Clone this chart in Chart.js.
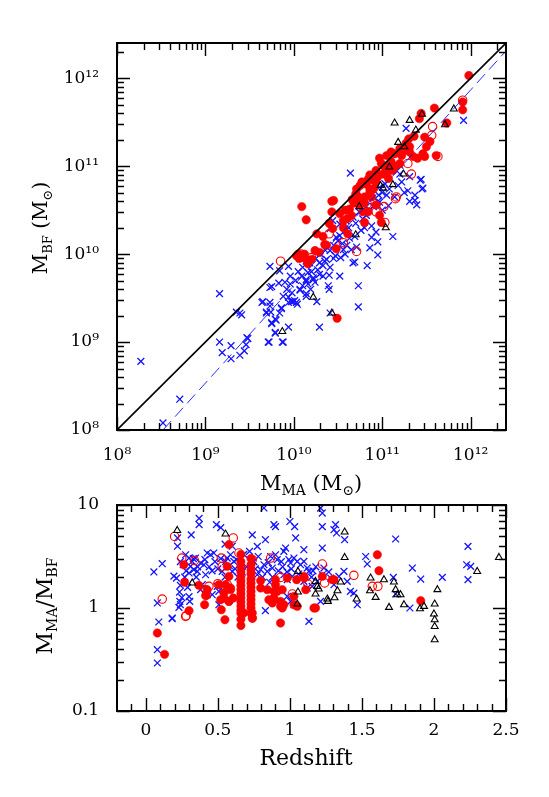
<!DOCTYPE html>
<html>
<head>
<meta charset="utf-8">
<script src="https://cdn.jsdelivr.net/npm/chart.js@4/dist/chart.umd.min.js"></script>
<style>
html, body { margin: 0; padding: 0; background: #fff; }
#top { position: absolute; left: 0; top: 0; width: 549px; height: 500px; }
#bot { position: absolute; left: 0; top: 480px; width: 549px; height: 317px; }
</style>
</head>
<body>
<div id="top"><canvas id="massChart" width="549" height="500"></canvas></div>
<div id="bot"><canvas id="ratioChart" width="549" height="317"></canvas></div>
<script>
// top panel: [log M_MA, log M_BF]
const massCross = [
  [9.16,9.55],[8.27,8.78],[8.71,8.35],[8.52,8.08],[9.16,9.00],[9.19,8.88],[9.29,8.96],[9.29,8.81],[9.35,9.34],[9.41,9.31],
  [9.39,8.85],[9.44,8.90],[9.46,8.97],[9.48,9.04],[9.64,9.45],[9.69,9.33],[9.73,9.45],[9.74,9.34],[9.75,9.22],[9.79,9.26],
  [9.72,9.00],[9.79,9.11],[9.86,9.38],[9.84,9.33],[9.88,9.52],[9.87,9.00],[9.94,9.17],[9.94,9.45],[9.97,9.46],[10.01,9.47],
  [10.04,9.43],[10.07,9.59],[10.14,9.52],[10.26,9.46],[10.29,9.17],[10.40,9.60],[10.73,9.40],[10.41,9.33],[9.73,9.86],[9.94,9.86],
  [9.96,9.75],[9.73,9.62],[9.83,9.67],[9.92,9.60],[9.94,9.51],[9.65,9.46],[9.73,9.41],[9.86,9.39],[9.99,9.46],[10.03,9.45],
  [9.39,9.33],[9.69,9.34],[9.80,9.25],[9.75,9.21],[9.79,9.10],[9.47,9.05],[9.71,9.00],[9.88,9.00],[10.14,9.92],[10.16,9.79],
  [10.14,9.71],[10.14,9.55],[10.64,10.92],[10.96,10.67],[10.95,10.14],[10.83,9.87],[10.95,9.99],[10.71,10.08],[10.67,9.90],[10.53,9.96],
  [10.41,10.04],[10.37,9.94],[10.40,9.76],[10.39,9.64],[10.52,9.75],[10.73,9.64],[9.96,9.66],[10.24,9.68],[10.22,9.73],[10.14,9.69],
  [10.33,9.75],[10.33,9.87],[10.48,10.19],[10.52,10.21],[10.59,10.27],[10.76,10.27],[10.88,10.32],[10.82,10.44],[10.97,10.59],[11.05,10.67],
  [11.08,10.74],[10.44,10.38],[10.41,10.29],[10.52,10.34],[10.59,10.38],[10.67,10.42],[10.74,10.48],[10.82,10.54],[10.90,10.54],[10.88,10.19],
  [10.93,10.25],[10.29,9.90],[11.92,11.52],[11.27,11.43],[11.43,10.84],[11.45,10.74],[11.29,10.72],[11.20,10.91],[11.22,10.82],[11.31,10.88],
  [10.93,10.91],[10.97,10.76],[11.03,10.80],[11.18,10.78],[11.37,10.67],[11.44,10.85],[11.46,10.75],[11.31,10.60],[11.37,10.61],[11.39,10.56],
  [11.12,10.20],[10.86,10.07],[10.69,9.91],[9.84,9.81],[9.90,9.68],[9.75,9.63],[10.07,9.60],[10.16,9.66],[10.22,9.71],[10.29,9.77],
  [10.41,9.85],[10.05,9.80],[10.10,9.85],[10.18,9.90],[10.25,9.95],[10.30,10.00],[10.35,10.05],[10.45,10.10],[10.50,10.15],[10.60,10.10],
  [10.62,10.30],[10.70,10.35],[10.78,10.40],[10.85,10.50],[10.95,10.60],[11.00,10.70],[11.20,11.01],[10.56,10.05],[10.47,9.98],[10.20,9.80],
  [10.02,9.70],[10.09,9.75],[10.27,9.82],[10.35,9.92],[10.45,9.95],[10.55,10.12],[10.63,10.18],[10.69,10.20],[10.80,10.30],[10.10,9.64],
  [9.98,9.56],[10.19,9.60],[10.58,10.00],[10.65,10.05],[11.00,10.50],[11.07,10.55],[11.14,10.65],[11.25,10.70]
];
const massDot = [
  [10.49,9.27],[10.09,10.54],[10.14,10.39],[10.43,10.60],[10.45,10.61],[10.43,10.48],[10.56,10.38],[10.71,10.74],[10.75,10.78],[10.80,10.80],
  [10.84,10.85],[10.86,10.70],[10.88,10.65],[10.80,10.65],[10.76,10.62],[10.97,11.09],[11.05,11.12],[11.10,11.05],[11.06,10.94],[10.93,10.82],
  [10.86,10.90],[10.90,10.74],[10.63,10.51],[10.65,10.44],[10.56,10.30],[10.61,10.23],[10.44,10.29],[10.48,10.06],[10.35,10.11],[10.37,10.10],
  [10.26,10.23],[10.24,10.04],[10.29,10.02],[10.14,9.94],[10.20,9.94],[10.16,9.89],[10.05,10.00],[10.09,9.96],[10.78,10.48],[10.80,10.36],
  [10.84,10.48],[10.74,10.56],[10.93,10.56],[10.97,10.44],[10.99,10.36],[10.60,10.40],[11.98,12.03],[11.91,11.73],[11.91,11.64],[11.59,11.66],
  [11.73,11.49],[11.44,11.60],[11.42,11.54],[11.36,11.34],[11.30,11.31],[11.27,11.26],[11.31,11.22],[11.25,11.18],[11.31,11.16],[11.22,11.12],
  [11.35,11.11],[11.40,11.09],[11.46,11.14],[11.48,11.11],[11.20,11.03],[11.61,11.12],[11.10,11.16],[11.14,11.14],[10.99,11.03],[11.05,10.99],
  [11.12,10.95],[11.01,10.91],[10.95,10.88],[11.07,10.86],[10.90,10.84],[10.82,10.80],[10.77,10.82],[10.86,10.74],[11.50,11.22],[11.54,11.28],
  [11.48,11.33],[10.03,9.98],[10.06,9.95],[10.12,10.00],[10.70,10.68],[10.68,10.58],[11.16,11.00],[10.52,10.46],[10.66,10.62],[10.72,10.66],
  [10.58,10.50],[10.40,10.35],[10.33,10.20],[10.93,10.95],[11.02,11.00],[10.80,10.58],[11.20,11.20]
];
const massOpen = [
  [9.85,9.92],[10.08,10.00],[10.20,9.96],[10.40,10.23],[10.56,10.13],[10.71,10.03],[10.63,10.42],[10.93,10.48],[11.02,10.54],[11.03,10.36],
  [11.15,10.63],[10.83,10.57],[11.57,11.45],[11.56,11.35],[11.29,11.03],[11.33,10.91],[11.16,10.65],[11.63,11.11],[11.91,11.75]
];
const massTri = [
  [9.87,9.12],[10.22,9.51],[10.43,9.33],[10.70,10.22],[11.04,10.30],[10.74,10.54],[10.98,10.78],[11.12,10.79],[11.14,11.49],[11.31,11.52],
  [11.81,11.65],[11.71,11.47],[11.18,11.27],[11.25,11.22],[11.08,10.99],[11.24,10.91],[11.01,10.75],[11.45,11.59],[11.38,11.41]
];
const oneToOne = [[8.0,8.0],[12.4,12.4]];
const fitLine = [[8.52,8.0],[12.4,12.31]];

// bottom panel: [redshift, log(M_MA/M_BF)]
const ratioCross = [
  [0.37,0.87],[0.37,0.81],[0.315,0.71],[0.22,0.68],[0.22,0.60],[0.114,0.43],[0.056,0.35],[0.195,0.31],[0.213,0.29],[0.234,0.155],
  [0.236,0.064],[0.24,0.032],[0.23,0.006],[0.30,0.11],[0.305,0.064],[0.183,-0.097],[0.09,-0.136],[0.08,0.049],[0.08,-0.405],[0.08,-0.534],
  [0.276,0.517],[0.30,0.485],[0.322,0.452],[0.345,0.485],[0.31,0.404],[0.333,0.372],[0.357,0.355],[0.30,0.34],[0.38,0.437],[0.403,0.42],
  [0.426,0.534],[0.45,0.517],[0.472,0.534],[0.415,0.323],[0.392,0.226],[0.38,0.178],[0.426,0.129],[0.461,0.129],[0.496,0.21],[0.507,0.161],
  [0.53,0.355],[0.553,0.452],[0.565,0.485],[0.588,0.517],[0.611,0.452],[0.60,0.355],[0.507,0.032],[0.49,0.809],[0.52,0.78],[0.82,0.971],
  [1.0,0.84],[1.033,0.79],[0.90,0.79],[1.213,0.97],[1.225,0.922],[1.225,0.79],[1.306,0.76],[1.317,0.81],[1.324,0.728],[1.38,0.663],
  [1.04,0.68],[0.739,0.71],[0.83,0.663],[0.774,0.598],[1.526,0.50],[1.537,0.427],[1.225,0.582],[1.097,0.566],[0.958,0.55],[0.97,0.582],
  [0.90,0.517],[0.866,0.50],[0.912,0.469],[0.993,0.469],[1.005,0.437],[1.028,0.485],[1.051,0.452],[1.074,0.42],[1.097,0.452],[1.12,0.388],
  [1.132,0.355],[0.82,0.42],[0.797,0.372],[0.843,0.355],[0.878,0.388],[0.774,0.323],[0.958,0.323],[0.982,0.275],[1.017,0.307],[1.097,0.258],
  [1.12,0.194],[1.155,0.21],[1.19,0.258],[1.236,0.388],[1.225,0.323],[1.283,0.291],[1.306,0.226],[1.34,0.307],[1.375,0.355],[1.398,0.258],
  [1.42,0.161],[1.444,0.145],[1.468,0.032],[1.213,0.064],[1.005,0.064],[1.028,0.032],[0.982,0.113],[0.83,-0.026],[1.132,-0.13],[1.734,0.67],
  [1.85,0.388],[1.908,0.281],[2.058,0.297],[1.718,0.297],[1.734,0.136],[1.833,0.0],[2.236,0.598],[2.227,0.42],[2.255,0.404],[2.236,0.275],
  [0.183,-0.104],[0.889,0.81],[0.26,0.42],[0.28,0.36],[0.35,0.30],[0.44,0.40],[0.48,0.45],[0.50,0.38],[0.55,0.30],[0.62,0.38],
  [0.64,0.30],[0.70,0.40],[0.75,0.45],[0.78,0.50],[0.85,0.44],[0.88,0.30],[0.92,0.36],[0.95,0.40],[0.98,0.35],[1.06,0.33],
  [1.15,0.30],[1.18,0.40],[1.27,0.35],[0.68,0.52],[0.72,0.55],[0.60,0.60],[0.55,0.62],[0.24,0.45],[0.27,0.30],[0.33,0.48],
  [0.36,0.40],[0.41,0.47],[0.46,0.36],[0.52,0.48],[0.58,0.41],[0.63,0.47],[0.67,0.35],[0.76,0.38],[0.81,0.30],[0.86,0.25],
  [0.94,0.45],[1.01,0.38],[1.08,0.30],[1.16,0.36],[0.24,0.22],[0.25,0.10],[0.29,0.20]
];
const ratioDot = [
  [0.264,0.42],[0.269,0.25],[0.368,0.22],[0.426,0.178],[0.42,0.122],[0.408,0.032],[0.30,-0.026],[0.08,-0.243],[0.13,-0.45],[0.524,-0.017],
  [0.549,-0.114],[0.577,0.615],[0.565,0.404],[0.577,0.307],[0.553,0.226],[0.588,0.194],[0.542,0.097],[0.577,0.064],[0.66,0.52],[0.66,0.45],
  [0.66,0.40],[0.66,0.35],[0.66,0.30],[0.66,0.26],[0.66,0.22],[0.66,0.18],[0.66,0.14],[0.66,0.10],[0.66,0.06],[0.66,0.02],
  [0.66,-0.02],[0.66,-0.05],[0.66,-0.11],[0.66,-0.17],[0.73,0.48],[0.73,0.42],[0.73,0.37],[0.73,0.33],[0.73,0.28],[0.73,0.24],
  [0.73,0.20],[0.73,0.16],[0.73,0.12],[0.73,0.08],[0.73,0.04],[0.73,0.00],[0.73,-0.05],[0.74,-0.10],[0.797,0.265],[0.797,0.194],
  [0.90,0.275],[0.90,0.226],[0.912,0.161],[0.889,0.097],[0.935,0.064],[0.947,0.0],[0.878,0.049],[0.958,0.032],[1.047,0.275],[1.097,0.307],
  [1.028,0.032],[1.051,0.016],[1.167,0.0],[0.935,-0.146],[1.225,0.307],[1.294,0.275],[1.607,0.517],[1.618,0.362],[1.908,0.071],[0.68,-0.049],
  [0.739,-0.049],[0.739,-0.097],[0.982,0.291],[0.947,0.178],[0.889,0.161],[1.10,0.291],[1.11,0.178],[1.028,0.113],[1.178,0.0],[1.306,0.275],
  [0.843,0.178],[0.854,0.08],[0.889,0.08],[0.935,0.016],[0.415,0.12],[0.507,0.226],[0.519,0.08],[0.607,0.097],[0.577,0.064],[0.542,0.145],
  [0.588,0.178]
];
const ratioOpen = [
  [0.20,0.695],[0.25,0.485],[0.338,0.46],[0.114,0.087],[0.28,-0.075],[0.415,0.178],[0.438,0.21],[0.50,0.236],[0.524,0.485],[0.53,0.404],
  [0.607,0.68],[0.646,0.534],[0.565,0.226],[0.866,0.485],[0.935,0.297],[1.017,0.136],[1.225,0.427],[1.125,0.233],[1.241,0.243],[1.444,0.317],
  [0.739,0.469],[1.572,0.21],[1.611,0.21],[0.276,-0.081]
];
const ratioTri = [
  [0.218,0.753],[0.553,0.718],[0.322,0.243],[1.056,0.355],[1.056,0.155],[1.051,0.039],[1.178,0.258],[1.19,0.21],[1.178,0.136],[1.26,0.087],
  [1.264,0.064],[1.33,0.168],[1.352,0.252],[1.38,0.738],[1.38,0.491],[1.463,0.087],[1.56,0.291],[1.556,0.168],[2.451,0.491],[2.30,0.355],
  [1.653,0.275],[1.722,0.252],[1.734,0.178],[1.746,0.129],[1.768,0.129],[1.595,0.103],[1.688,0.006],[1.792,0.032],[1.903,-0.007],[1.931,0.016],
  [2.024,0.178],[2.005,0.039],[2.0,-0.058],[2.005,-0.114],[2.005,-0.179],[2.005,-0.308],[1.20,0.185],[1.31,0.10]
];

const massTicks = [1e8, 1e9, 1e10, 1e11, 1e12];
const redshiftTicks = [0, 0.5, 1, 1.5, 2, 2.5];
const ratioTicks = [0.1, 1, 10];

const BLUE = 'rgb(20,20,255)';
const RED = 'rgb(255,0,0)';
const SUP = '⁰¹²³⁴⁵⁶⁷⁸⁹';

function logLog(arr) { return arr.map(p => ({ x: Math.pow(10, p[0]), y: Math.pow(10, p[1]) })); }
function linLog(arr) { return arr.map(p => ({ x: p[0], y: Math.pow(10, p[1]) })); }
function supNum(n) { return String(n).split('').map(c => SUP[+c]).join(''); }

function minorLog(lo, hi) {
  const out = [];
  for (let d = Math.floor(Math.log10(lo)); d <= Math.ceil(Math.log10(hi)); d++) {
    for (let k = 2; k <= 9; k++) {
      const v = k * Math.pow(10, d);
      if (v > lo && v < hi) out.push(v);
    }
  }
  return out;
}

function drawLabel(ctx, parts, x, y, angle, size) {
  const big = size + 'px "DejaVu Serif"', small = Math.round(size * 0.65) + 'px "DejaVu Serif"';
  let w = 0;
  parts.forEach(p => { ctx.font = p[1] ? small : big; w += ctx.measureText(p[0]).width; });
  ctx.save();
  ctx.translate(x, y);
  ctx.rotate(angle || 0);
  ctx.fillStyle = '#000';
  ctx.textBaseline = 'alphabetic';
  ctx.textAlign = 'left';
  let cx = -w / 2;
  parts.forEach(p => {
    ctx.font = p[1] ? small : big;
    ctx.fillText(p[0], cx, p[1] ? 5 : 0);
    cx += ctx.measureText(p[0]).width;
  });
  ctx.restore();
}

// frame, inward ticks on all four sides, axis titles
function frameTicks(spec) {
  return {
    id: 'frameTicks',
    afterDraw(chart) {
      const ctx = chart.ctx, a = chart.chartArea;
      const xs = chart.scales.x, ys = chart.scales.y;
      ctx.save();
      ctx.strokeStyle = '#000';
      ctx.lineWidth = 1.4;
      ctx.beginPath();
      const xt = (vals, len) => vals.forEach(v => {
        const p = Math.round(xs.getPixelForValue(v)) + 0.5;
        ctx.moveTo(p, a.bottom); ctx.lineTo(p, a.bottom - len);
        ctx.moveTo(p, a.top); ctx.lineTo(p, a.top + len);
      });
      const yt = (vals, len) => vals.forEach(v => {
        const p = Math.round(ys.getPixelForValue(v)) + 0.5;
        ctx.moveTo(a.left, p); ctx.lineTo(a.left + len, p);
        ctx.moveTo(a.right, p); ctx.lineTo(a.right - len, p);
      });
      xt(spec.xMajor, 13); xt(spec.xMinor, 7);
      yt(spec.yMajor, 13); yt(spec.yMinor, 7);
      ctx.stroke();
      ctx.lineWidth = 2;
      ctx.strokeRect(a.left, a.top, a.right - a.left, a.bottom - a.top);
      ctx.restore();
      spec.titles.forEach(t => drawLabel(ctx, t.parts, t.x, t.y, t.angle, t.size));
    }
  };
}

const tickFont = { family: 'DejaVu Serif', size: 17 };

const crossStyle = { pointStyle: 'crossRot', pointRadius: 4.8, borderColor: BLUE, borderWidth: 1.3, backgroundColor: BLUE };
const dotStyle = { pointStyle: 'circle', pointRadius: 4.2, borderColor: RED, borderWidth: 0.5, backgroundColor: RED };
const openStyle = { pointStyle: 'circle', pointRadius: 4.2, borderColor: RED, borderWidth: 1.1, backgroundColor: 'rgba(0,0,0,0)' };
const triStyle = { pointStyle: 'triangle', pointRadius: 4, borderColor: '#000', borderWidth: 1.1, backgroundColor: 'rgba(0,0,0,0)' };

const massMax = Math.pow(10, 12.4);

const massChart = new Chart(document.getElementById('massChart'), {
  type: 'scatter',
  data: {
    datasets: [
      Object.assign({ label: 'one-to-one', type: 'line', data: logLog(oneToOne), showLine: true, borderColor: '#000', borderWidth: 1.6, pointRadius: 0, order: 0 }),
      Object.assign({ label: 'fit', type: 'line', data: logLog(fitLine), showLine: true, borderColor: BLUE, borderWidth: 0.9, borderDash: [12, 6], pointRadius: 0, order: 1 }),
      Object.assign({ label: 'triangles', data: logLog(massTri), order: 2 }, triStyle),
      Object.assign({ label: 'open', data: logLog(massOpen), order: 3 }, openStyle),
      Object.assign({ label: 'filled', data: logLog(massDot), order: 4 }, dotStyle),
      Object.assign({ label: 'crosses', data: logLog(massCross), order: 5 }, crossStyle)
    ]
  },
  options: {
    responsive: false,
    animation: false,
    devicePixelRatio: 1,
    layout: { padding: { left: 0, top: 43, right: 43, bottom: 0 } },
    plugins: { legend: { display: false }, tooltip: { enabled: false } },
    scales: {
      x: {
        type: 'logarithmic', min: 1e8, max: massMax,
        grid: { display: false }, border: { display: false },
        afterBuildTicks: s => { s.ticks = massTicks.map(v => ({ value: v })); },
        afterFit: s => { s.height = 70; },
        ticks: { autoSkip: false, maxRotation: 0, padding: 7, color: '#000', font: tickFont,
          callback: v => '10' + supNum(Math.round(Math.log10(v))) }
      },
      y: {
        type: 'logarithmic', min: 1e8, max: massMax,
        grid: { display: false }, border: { display: false },
        afterBuildTicks: s => { s.ticks = massTicks.map(v => ({ value: v })); },
        afterFit: s => { s.width = 117; },
        ticks: { autoSkip: false, padding: 10, color: '#000', font: tickFont,
          callback: v => '10' + supNum(Math.round(Math.log10(v))) }
      }
    }
  },
  plugins: [frameTicks({
    xMajor: massTicks, xMinor: minorLog(1e8, massMax),
    yMajor: massTicks, yMinor: minorLog(1e8, massMax),
    titles: [
      { parts: [['M'], ['MA', 1], [' (M'], ['⊙', 1], [')']], x: 311, y: 490, size: 21 },
      { parts: [['M'], ['BF', 1], [' (M'], ['⊙', 1], [')']], x: 47, y: 228, angle: -Math.PI / 2, size: 20 }
    ]
  })]
});

const ratioChart = new Chart(document.getElementById('ratioChart'), {
  type: 'scatter',
  data: {
    datasets: [
      Object.assign({ label: 'triangles', data: linLog(ratioTri), order: 2 }, triStyle),
      Object.assign({ label: 'open', data: linLog(ratioOpen), order: 3 }, openStyle),
      Object.assign({ label: 'filled', data: linLog(ratioDot), order: 4 }, dotStyle),
      Object.assign({ label: 'crosses', data: linLog(ratioCross), order: 5 }, crossStyle)
    ]
  },
  options: {
    responsive: false,
    animation: false,
    devicePixelRatio: 1,
    layout: { padding: { left: 0, top: 25, right: 43, bottom: 0 } },
    plugins: { legend: { display: false }, tooltip: { enabled: false } },
    scales: {
      x: {
        type: 'linear', min: -0.2, max: 2.5,
        grid: { display: false }, border: { display: false },
        afterBuildTicks: s => { s.ticks = redshiftTicks.map(v => ({ value: v })); },
        afterFit: s => { s.height = 86; },
        ticks: { autoSkip: false, maxRotation: 0, padding: 1, color: '#000', font: tickFont,
          callback: v => String(v) }
      },
      y: {
        type: 'logarithmic', min: 0.1, max: 10,
        grid: { display: false }, border: { display: false },
        afterBuildTicks: s => { s.ticks = ratioTicks.map(v => ({ value: v })); },
        afterFit: s => { s.width = 117; },
        ticks: { autoSkip: false, padding: 10, color: '#000', font: tickFont,
          callback: v => String(v) }
      }
    }
  },
  plugins: [frameTicks({
    xMajor: redshiftTicks,
    xMinor: [-0.1, 0.1, 0.2, 0.3, 0.4, 0.6, 0.7, 0.8, 0.9, 1.1, 1.2, 1.3, 1.4, 1.6, 1.7, 1.8, 1.9, 2.1, 2.2, 2.3, 2.4],
    yMajor: ratioTicks, yMinor: minorLog(0.1, 10),
    titles: [
      { parts: [['Redshift']], x: 306, y: 285, size: 22 },
      { parts: [['M'], ['MA', 1], ['/M'], ['BF', 1]], x: 52, y: 126, angle: -Math.PI / 2, size: 22 }
    ]
  })]
});
</script>
</body>
</html>
